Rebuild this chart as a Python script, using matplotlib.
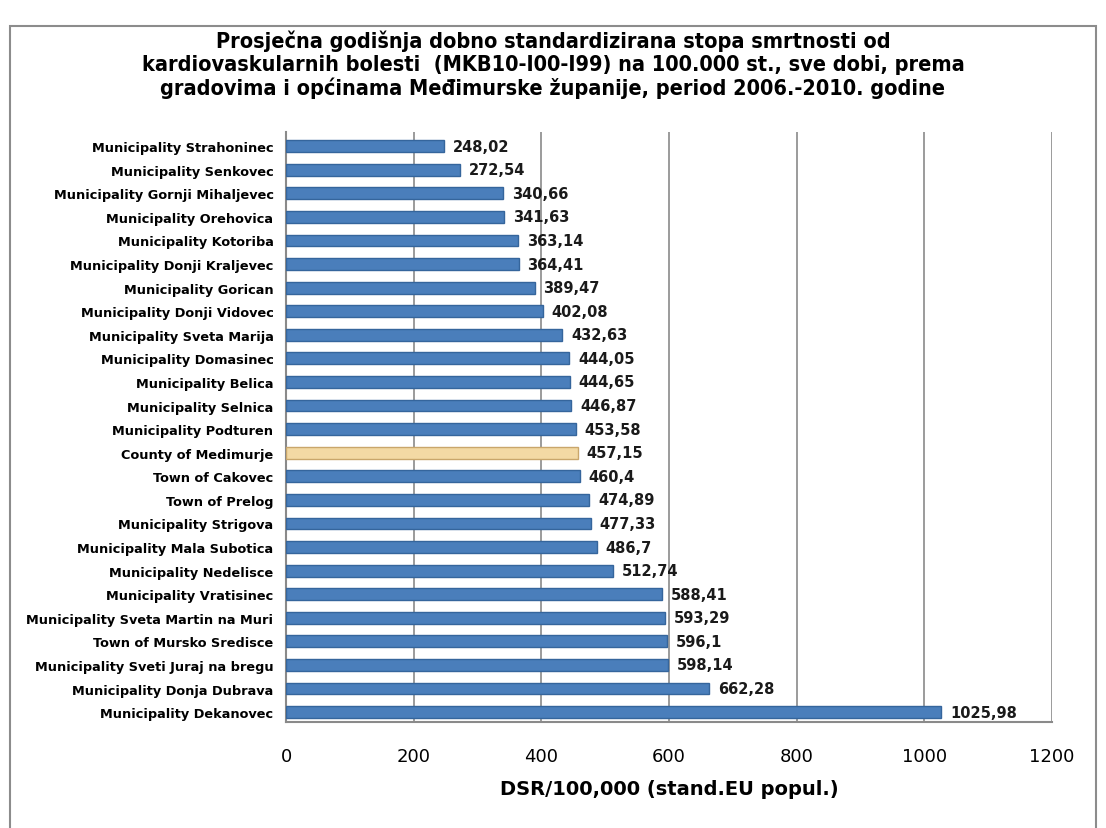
import matplotlib.pyplot as plt
from matplotlib.patches import Rectangle

# Data (top to bottom as in the chart)
places = ['Municipality Strahoninec', 'Municipality Senkovec', 'Municipality Gornji Mihaljevec',
          'Municipality Orehovica', 'Municipality Kotoriba', 'Municipality Donji Kraljevec',
          'Municipality Gorican', 'Municipality Donji Vidovec', 'Municipality Sveta Marija',
          'Municipality Domasinec', 'Municipality Belica', 'Municipality Selnica',
          'Municipality Podturen', 'County of Medimurje', 'Town of Cakovec', 'Town of Prelog',
          'Municipality Strigova', 'Municipality Mala Subotica', 'Municipality Nedelisce',
          'Municipality Vratisinec', 'Municipality Sveta Martin na Muri', 'Town of Mursko Sredisce',
          'Municipality Sveti Juraj na bregu', 'Municipality Donja Dubrava', 'Municipality Dekanovec']
dsr = [248.02, 272.54, 340.66, 341.63, 363.14, 364.41, 389.47, 402.08, 432.63, 444.05,
       444.65, 446.87, 453.58, 457.15, 460.4, 474.89, 477.33, 486.7, 512.74, 588.41,
       593.29, 596.1, 598.14, 662.28, 1025.98]
highlight = 'County of Medimurje'
xticks = [0, 200, 400, 600, 800, 1000, 1200]

title = ('Prosječna godišnja dobno standardizirana stopa smrtnosti od\n'
         'kardiovaskularnih bolesti  (MKB10-I00-I99) na 100.000 st., sve dobi, prema\n'
         'gradovima i općinama Međimurske županije, period 2006.-2010. godine')

fig = plt.figure(figsize=(11.06, 8.29), dpi=100)
fig.patches.append(Rectangle((10 / 1106, -0.01), 1086 / 1106, 1 - 27 / 829 + 0.01,
                             transform=fig.transFigure, fill=False,
                             edgecolor='#8c8c8c', lw=1.5))

ax = fig.add_axes([286 / 1106, 1 - 723 / 829, 766 / 1106, 590 / 829])

ypos = list(range(len(places)))
colors = ['#F3D9A4' if p == highlight else '#4A7EBB' for p in places]
edges = ['#C9A66B' if p == highlight else '#35659C' for p in places]
ax.barh(ypos, dsr, height=0.5, color=colors, edgecolor=edges, lw=1.0, zorder=3)

for y, v in zip(ypos, dsr):
    ax.text(v + 14, y, f'{v:g}'.replace('.', ','), va='center', ha='left',
            fontsize=10.5, fontweight='bold', color='#1a1a1a', zorder=4)

ax.set_xlim(0, 1200)
ax.set_ylim(24.42, -0.6)
ax.set_xticks(xticks)
ax.set_xticklabels([str(t) for t in xticks], fontsize=13)
ax.set_yticks(ypos)
ax.set_yticklabels(places, fontsize=9.3, fontweight='bold')
ax.tick_params(axis='both', length=0)
ax.tick_params(axis='x', pad=18)
ax.tick_params(axis='y', pad=9)

ax.grid(axis='x', color='#8a8a8a', lw=1.2, zorder=0)
for s in ['top', 'right']:
    ax.spines[s].set_visible(False)
ax.spines['left'].set_color('#8a8a8a')
ax.spines['bottom'].set_color('#8a8a8a')
ax.spines['left'].set_linewidth(1.5)
ax.spines['bottom'].set_linewidth(1.5)

ax.set_xlabel('DSR/100,000 (stand.EU popul.)', fontsize=14, fontweight='bold', labelpad=10)

fig.text(0.5, 1 - 65 / 829, title, ha='center', va='center', fontsize=15.6,
         fontweight='bold', fontstretch='condensed', linespacing=1.15)

fig.savefig('out.png', dpi=100)
